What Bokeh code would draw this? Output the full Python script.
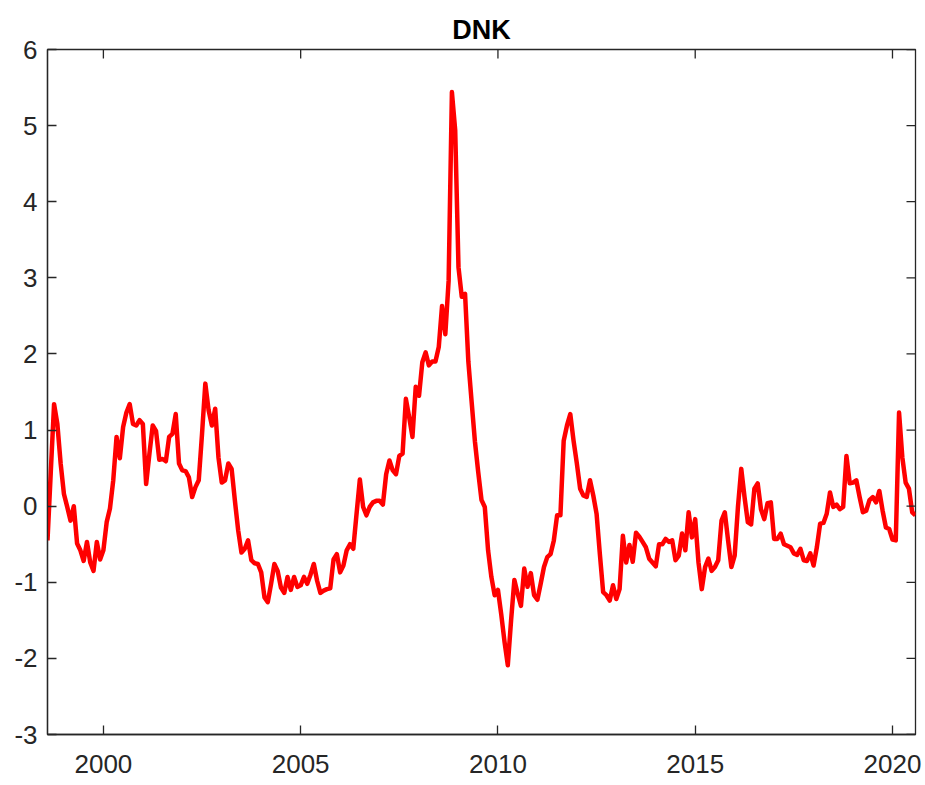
import math
import pandas as pd
from bokeh.plotting import figure
from bokeh.models import Range1d, FixedTicker
from bokeh.embed import file_html
from bokeh.resources import INLINE

# ---- data (monthly, starting Aug 1998) ----
start_month = "1998-08-01"
dnk = [
    -0.45, 0.45, 1.34, 1.08, 0.56, 0.16, -0.01, -0.19, 0.00, -0.49, -0.58, -0.72,
    -0.47, -0.74, -0.85, -0.47, -0.70, -0.58, -0.21, -0.03, 0.34, 0.91, 0.63, 1.04,
    1.23, 1.34, 1.08, 1.06, 1.13, 1.08, 0.29, 0.69, 1.06, 0.99, 0.61, 0.62,
    0.59, 0.91, 0.95, 1.21, 0.56, 0.47, 0.46, 0.38, 0.12, 0.25, 0.34, 0.95,
    1.61, 1.26, 1.06, 1.28, 0.64, 0.31, 0.34, 0.56, 0.49, 0.07, -0.32, -0.61,
    -0.56, -0.45, -0.71, -0.75, -0.76, -0.87, -1.20, -1.26, -1.02, -0.76, -0.85, -1.07,
    -1.14, -0.93, -1.10, -0.93, -1.06, -1.04, -0.93, -1.02, -0.90, -0.76, -0.98, -1.14,
    -1.11, -1.09, -1.08, -0.70, -0.63, -0.87, -0.78, -0.58, -0.50, -0.56, -0.10, 0.35,
    -0.01, -0.12, -0.01, 0.05, 0.07, 0.07, 0.02, 0.42, 0.60, 0.47, 0.42, 0.66,
    0.69, 1.41, 1.17, 0.91, 1.57, 1.45, 1.89, 2.02, 1.85, 1.90, 1.90, 2.09,
    2.63, 2.26, 2.96, 5.44, 4.94, 3.14, 2.75, 2.79, 1.90, 1.37, 0.85, 0.45,
    0.08, -0.01, -0.58, -0.93, -1.17, -1.10, -1.42, -1.78, -2.09, -1.50, -0.97, -1.15,
    -1.31, -0.82, -1.06, -0.88, -1.17, -1.23, -1.02, -0.80, -0.67, -0.63, -0.45, -0.12,
    -0.12, 0.86, 1.06, 1.21, 0.86, 0.56, 0.23, 0.14, 0.12, 0.34, 0.14, -0.10,
    -0.63, -1.13, -1.17, -1.24, -1.04, -1.22, -1.09, -0.39, -0.74, -0.51, -0.73, -0.35,
    -0.40, -0.47, -0.54, -0.69, -0.74, -0.79, -0.50, -0.50, -0.43, -0.47, -0.45, -0.71,
    -0.65, -0.36, -0.58, -0.08, -0.41, -0.17, -0.74, -1.09, -0.80, -0.69, -0.85, -0.80,
    -0.71, -0.19, -0.08, -0.45, -0.80, -0.65, -0.01, 0.49, 0.12, -0.21, -0.24, 0.23,
    0.30, -0.04, -0.17, 0.04, 0.05, -0.43, -0.43, -0.36, -0.50, -0.52, -0.54, -0.62,
    -0.64, -0.56, -0.71, -0.72, -0.62, -0.78, -0.54, -0.23, -0.22, -0.10, 0.18, -0.01,
    0.02, -0.04, -0.01, 0.66, 0.30, 0.31, 0.34, 0.12, -0.08, -0.06, 0.08, 0.12,
    0.05, 0.20, -0.06, -0.28, -0.30, -0.44, -0.45, 1.23, 0.64, 0.31, 0.23, -0.08,
    -0.12,
]
y_ticks = [-3, -2, -1, 0, 1, 2, 3, 4, 5, 6]
y_tick_labels = ["-3", "-2", "-1", "0", "1", "2", "3", "4", "5", "6"]
x_ticks = [2000, 2005, 2010, 2015, 2020]
x_tick_labels = ["2000", "2005", "2010", "2015", "2020"]
title_text = "DNK"

dates = pd.date_range(start_month, periods=len(dnk), freq="MS")
t = list(dates.year + (dates.month - 1) / 12.0)
x_lo, x_hi = t[0], t[-1]
y_lo, y_hi = y_ticks[0], y_ticks[-1]

FONT = "Liberation Sans"
AX = "#262626"
TICK_LEN = 9

p = figure(width=925, height=785, output_backend="svg", toolbar_location=None,
           x_range=Range1d(x_lo, x_hi), y_range=Range1d(y_lo, y_hi),
           min_border_left=47, min_border_right=10, min_border_top=49,
           min_border_bottom=51, title=title_text)

p.line(t, dnk, line_color="#ff0000", line_width=4.5, line_join="round")

# box: outline plus inward ticks on the top and right edges (clipped to the frame)
p.outline_line_color = AX
p.outline_line_width = 1.3
p.scatter(x=x_ticks, y=[y_hi] * len(x_ticks), marker="dash", angle=math.pi / 2,
          size=2 * TICK_LEN, line_color=AX, line_width=1.3)
p.scatter(x=[x_hi] * len(y_ticks), y=y_ticks, marker="dash",
          size=2 * TICK_LEN, line_color=AX, line_width=1.3)


def style(ax, ticks, labels, standoff):
    ax.ticker = FixedTicker(ticks=ticks)
    ax.major_label_overrides = {tk: lb for tk, lb in zip(ticks, labels)}
    ax.axis_line_color = AX
    ax.axis_line_width = 1.3
    ax.major_tick_line_color = AX
    ax.major_tick_line_width = 1.3
    ax.major_tick_in = TICK_LEN
    ax.major_tick_out = 0
    ax.minor_tick_line_color = None
    ax.major_label_text_font = FONT
    ax.major_label_text_color = AX
    ax.major_label_text_font_size = "26px"
    ax.major_label_standoff = standoff


style(p.xaxis[0], x_ticks, x_tick_labels, 20)
style(p.yaxis[0], y_ticks, y_tick_labels, 10)

p.xgrid.grid_line_color = None
p.ygrid.grid_line_color = None

p.title.text_font = FONT
p.title.text_font_size = "27px"
p.title.text_font_style = "bold"
p.title.text_color = "#000000"
p.title.align = "center"

open("out.html", "w").write(file_html(p, INLINE))
